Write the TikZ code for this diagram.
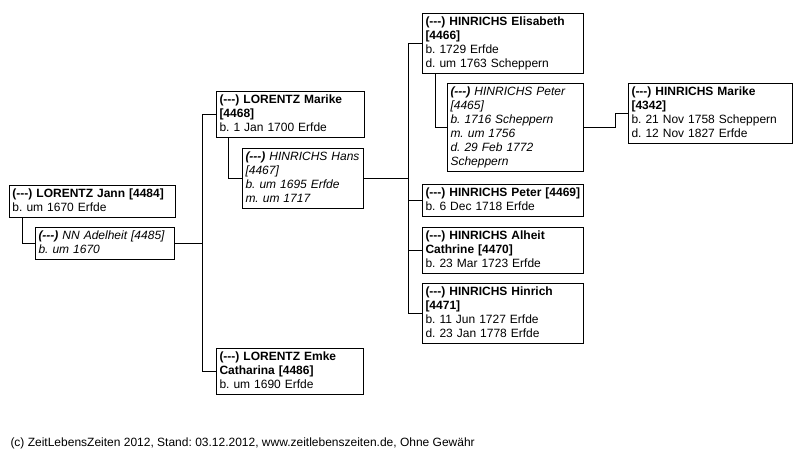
\documentclass[tikz,border=0pt]{standalone}
\usepackage{fontspec}
\setmainfont{Liberation Sans}
\newcommand\nodash{(-\kern0pt-\kern0pt-)}

\begin{document}
\begin{tikzpicture}[x=1pt,y=-1pt,line width=1pt,
 font=\fontsize{12}{14}\selectfont\frenchspacing,
 person/.style={draw,anchor=north west,align=left,text width=#1,
 inner xsep=3pt,inner ysep=2pt,
 execute at begin node=\strut,execute at end node=\strut},
 spouse/.style={person=#1,font=\fontsize{12}{14}\selectfont\frenchspacing\itshape}]
 \useasboundingbox (0,0) rectangle (804,453);
 % generation 1
 \node[person=160pt] (jann) at (9,185) {\textbf{\nodash{} LORENTZ Jann [4484]}\\b. um 1670 Erfde};
 \node[spouse=133pt] (adelheit) at (35,227) {\textbf{\nodash} NN Adelheit [4485]\\b. um 1670};
 % generation 2
 \node[person=142pt] (marike) at (216,91) {\textbf{\nodash{} LORENTZ Marike}\\\textbf{[4468]}\\b. 1 Jan 1700 Erfde};
 \node[spouse=115pt] (hans) at (242,148) {\textbf{\nodash} HINRICHS Hans\\{}[4467]\\b. um 1695 Erfde\\m. um 1717};
 \node[person=141pt] (emke) at (216,348) {\textbf{\nodash{} LORENTZ Emke}\\\textbf{Catharina [4486]}\\b. um 1690 Erfde};
 % generation 3
 \node[person=155pt] (elisabeth) at (422,13) {\textbf{\nodash{} HINRICHS Elisabeth}\\\textbf{[4466]}\\b. 1729 Erfde\\d. um 1763 Scheppern};
 \node[spouse=130pt] (peter) at (447,83) {\textbf{\nodash} HINRICHS Peter\\{}[4465]\\b. 1716 Scheppern\\m. um 1756\\d. 29 Feb 1772\\Scheppern};
 \node[person=155pt] (peter2) at (422,184) {\textbf{\nodash{} HINRICHS Peter [4469]}\\b. 6 Dec 1718 Erfde};
 \node[person=155pt] (alheit) at (422,227) {\textbf{\nodash{} HINRICHS Alheit}\\\textbf{Cathrine [4470]}\\b. 23 Mar 1723 Erfde};
 \node[person=155pt] (hinrich) at (422,283) {\textbf{\nodash{} HINRICHS Hinrich}\\\textbf{[4471]}\\b. 11 Jun 1727 Erfde\\d. 23 Jan 1778 Erfde};
 % generation 4
 \node[person=158pt] (marike2) at (628,83) {\textbf{\nodash{} HINRICHS Marike}\\\textbf{[4342]}\\b. 21 Nov 1758 Scheppern\\d. 12 Nov 1827 Erfde};
 \node[anchor=base west,inner sep=0pt] (footer) at (10,446) {(c) ZeitLebensZeiten 2012, Stand: 03.12.2012, www.zeitlebenszeiten.de, Ohne Gewähr};
 % connectors
 \coordinate (bar1) at (202,0);
 \coordinate (bar2) at (408,0);
 \draw ([xshift=13pt]jann.south west) |- (adelheit.west);
 \draw (adelheit.east) -- (adelheit.east -| bar1);
 \draw (marike.west) -| (bar1 |- emke.west) -- (emke.west);
 \draw ([xshift=12pt]marike.south west) |- (hans.west);
 \draw (hans.east) -- (hans.east -| bar2);
 \draw (elisabeth.west) -| (bar2 |- hinrich.west) -- (hinrich.west);
 \draw (peter2.west) -- (peter2.west -| bar2);
 \draw (alheit.west) -- (alheit.west -| bar2);
 \draw ([xshift=13pt]elisabeth.south west) |- (peter.west);
 \draw (peter.east) -- ++(31,0) |- (marike2.west);
\end{tikzpicture}
\end{document}
